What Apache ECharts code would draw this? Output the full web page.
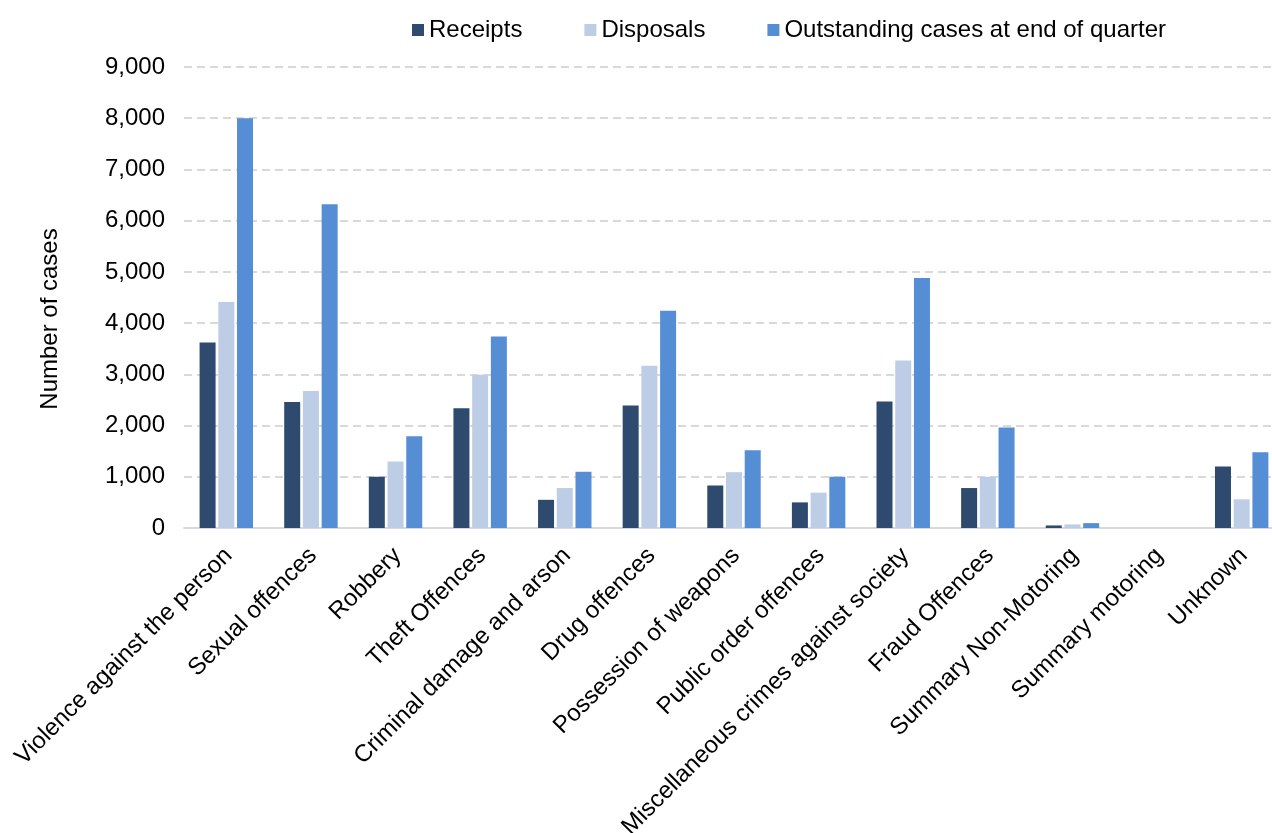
<!DOCTYPE html>
<html>
<head>
<meta charset="utf-8">
<script src="https://cdn.jsdelivr.net/npm/echarts@6/dist/echarts.min.js"></script>
<style>
  html, body { margin: 0; padding: 0; background: #fff; }
  #main { width: 1272px; height: 833px; }
</style>
</head>
<body>
<div id="main"></div>
<script>
// 数据
var categories = ['Violence against the person', 'Sexual offences', 'Robbery', 'Theft Offences',
  'Criminal damage and arson', 'Drug offences', 'Possession of weapons', 'Public order offences',
  'Miscellaneous crimes against society', 'Fraud Offences', 'Summary Non-Motoring',
  'Summary motoring', 'Unknown'];
var receipts    = [3620, 2460, 1000, 2340, 550, 2390, 830, 500, 2470, 780, 50, 0, 1200];
var disposals   = [4410, 2675, 1300, 2990, 780, 3170, 1090, 690, 3270, 1000, 70, 0, 560];
var outstanding = [8000, 6320, 1790, 3740, 1100, 4240, 1520, 1000, 4880, 1960, 95, 0, 1480];
var seriesNames = ['Receipts', 'Disposals', 'Outstanding cases at end of quarter'];
var colors = ['#2E4A6F', '#BDCDE5', '#558ED5'];

var font = 'Liberation Sans, Arial, sans-serif';
var myChart = echarts.init(document.getElementById('main'));

var option = {
  animation: false,
  color: colors,
  textStyle: { fontFamily: font },
  legend: {
    data: seriesNames,
    left: 407,
    top: 13,
    itemWidth: 12,
    itemHeight: 12,
    itemGap: 62,
    icon: 'rect',
    textStyle: { fontSize: 24, color: '#000', fontFamily: font }
  },
  grid: {
    left: 184,
    top: 67,
    width: 1100,
    height: 461,
    containLabel: false,
    outerBoundsMode: 'none'
  },
  graphic: [{
    type: 'text',
    x: 50,
    y: 319,
    rotation: Math.PI / 2,
    style: {
      text: 'Number of cases',
      font: '24px ' + font,
      fill: '#000',
      align: 'center',
      verticalAlign: 'middle'
    }
  }],
  xAxis: {
    type: 'category',
    data: categories,
    axisTick: { show: false },
    axisLine: { lineStyle: { color: '#D9D9D9', width: 2 } },
    axisLabel: {
      rotate: 45,
      interval: 0,
      margin: 26,
      padding: [0, -3, 0, 0],
      fontSize: 24,
      color: '#000',
      fontFamily: font
    }
  },
  yAxis: {
    type: 'value',
    min: 0,
    max: 9000,
    interval: 1000,
    axisLine: { show: false },
    axisTick: { show: false },
    axisLabel: {
      margin: 19,
      fontSize: 24,
      color: '#000',
      fontFamily: font,
      formatter: function (v) { return v.toLocaleString('en-GB'); }
    },
    splitLine: {
      lineStyle: { color: '#D9D9D9', width: 2, type: [8, 5] }
    }
  },
  series: [
    { name: seriesNames[0], type: 'bar', data: receipts, barWidth: 16, barGap: '17%' },
    { name: seriesNames[1], type: 'bar', data: disposals, barWidth: 16, barGap: '17%' },
    { name: seriesNames[2], type: 'bar', data: outstanding, barWidth: 16, barGap: '17%' }
  ]
};

myChart.setOption(option);
</script>
</body>
</html>
